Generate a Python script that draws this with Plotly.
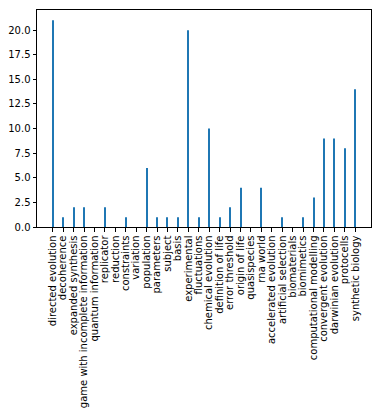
import plotly.graph_objects as go

categories = [
    "directed evolution", "decoherence", "expanded synthesis",
    "game with incomplete information", "quantum information", "replicator",
    "reduction", "constraints", "variation", "population", "parameters",
    "subject", "basis", "experimental", "fluctuations", "chemical evolution",
    "definition of life", "error threshold", "origin of life", "quasispecies",
    "rna world", "accelerated evolution", "artificial selection",
    "biomaterials", "biomimetics", "computational modelling",
    "convergent evolution", "darwinian evolution", "protocells",
    "synthetic biology",
]
values = [21, 1, 2, 2, 0, 2, 0, 1, 0, 6, 1, 1, 1, 20, 1, 10, 1, 2, 4, 0,
          4, 0, 1, 0, 1, 3, 9, 9, 8, 14]
y_ticks = [0, 2.5, 5, 7.5, 10, 12.5, 15, 17.5, 20]

idx = list(range(len(categories)))

fig = go.Figure(go.Bar(x=idx, y=values, width=0.1, marker_color="#1f77b4",
                       marker_line_width=0))

axis_common = dict(showline=True, linecolor="black", linewidth=1, mirror=True,
                   ticks="outside", ticklen=3.5, tickwidth=1, tickcolor="black",
                   showgrid=False, zeroline=False, automargin=False,
                   tickfont=dict(family="DejaVu Sans", size=10, color="black"))

# page body has an 8px default margin, so the figure is 8px smaller
fig.update_layout(
    width=374, height=406,
    margin=dict(l=29, r=11, t=2, b=187),
    paper_bgcolor="white", plot_bgcolor="white",
    showlegend=False,
    xaxis=dict(range=[-1.505, 30.505], tickmode="array", tickvals=idx,
               ticktext=categories, tickangle=-90, **axis_common),
    yaxis=dict(range=[0, 22.05], tickmode="array", tickvals=y_ticks,
               ticktext=[f"{v:.1f}" for v in y_ticks], **axis_common),
)

fig.write_html("out.html")
